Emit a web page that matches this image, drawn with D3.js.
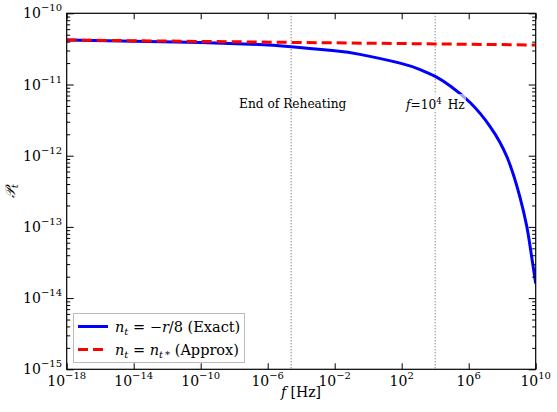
<!DOCTYPE html>
<html lang="en">
<head>
<meta charset="utf-8">
<title>Tensor power spectrum</title>
<script src="https://d3js.org/d3.v7.min.js"></script>
<style>
  body { margin: 0; background: #fff; }
  text { font-family: "DejaVu Serif", serif; fill: #000; }
  .tick-label { font-size: 14px; }
  .annot { font-size: 12.2px; }
  .legend-text { font-size: 14.5px; }
</style>
</head>
<body>
<svg width="557" height="412"></svg>
<script>
// frequency exponents (log10 f in Hz)
const exactLogF = [-18, -14, -10, -7, -4.6, -2, -0.5, 1.9, 3.1, 4.0, 4.9, 6.1, 7.3, 8.3, 9.06, 9.46, 9.66, 10];
// log10 P_t of the exact curve
const exactLogP = [-10.375, -10.391, -10.411, -10.434, -10.469, -10.527, -10.577, -10.70, -10.791, -10.887, -11.021, -11.257, -11.598, -12.026, -12.581, -12.984, -13.264, -13.795];
// approximate (constant n_t) curve
const approxLogF = [-18, -4, 10];
const approxLogP = [-10.375, -10.41, -10.445];
// vertical markers
const markerLogF = [-4.6, 4];
const xTickExp = [-18, -14, -10, -6, -2, 2, 6, 10];
const yTickExp = [-15, -14, -13, -12, -11, -10];

const svg = d3.select("svg");
const pLeft = 66.7, pRight = 535.7, pTop = 13.3, pBottom = 369.3;

const x = d3.scaleLog().domain([1e-18, 1e10]).range([pLeft, pRight]);
const y = d3.scaleLog().domain([1e-15, 1e-10]).range([pBottom, pTop]);

const exact = exactLogF.map((f, i) => [Math.pow(10, f), Math.pow(10, exactLogP[i])]);
const approx = approxLogF.map((f, i) => [Math.pow(10, f), Math.pow(10, approxLogP[i])]);

const line = d3.line()
  .x(d => x(d[0]))
  .y(d => y(d[1]))
  .curve(d3.curveNatural);

// clip
svg.append("clipPath").attr("id", "clip")
  .append("rect").attr("x", pLeft).attr("y", pTop).attr("width", pRight - pLeft).attr("height", pBottom - pTop);

const plot = svg.append("g").attr("clip-path", "url(#clip)");

// dotted markers
plot.selectAll("line.marker")
  .data(markerLogF)
  .enter()
  .append("line")
  .attr("class", "marker")
  .attr("x1", d => x(Math.pow(10, d)))
  .attr("x2", d => x(Math.pow(10, d)))
  .attr("y1", pTop).attr("y2", pBottom)
  .attr("stroke", "#777")
  .attr("stroke-width", 1.2)
  .attr("stroke-dasharray", "1,2");

plot.append("path")
  .datum(exact)
  .attr("d", line)
  .attr("fill", "none")
  .attr("stroke", "#0000ff")
  .attr("stroke-width", 3);

plot.append("path")
  .datum(approx)
  .attr("d", line)
  .attr("fill", "none")
  .attr("stroke", "#ff0000")
  .attr("stroke-width", 3)
  .attr("stroke-dasharray", "10,5");

// annotations
svg.append("text").attr("class", "annot")
  .attr("x", 239).attr("y", 108)
  .text("End of Reheating");

const fLab = svg.append("g");
fLab.append("rect")
  .attr("x", 404).attr("y", 94).attr("width", 62).attr("height", 18)
  .attr("fill", "#fff").attr("opacity", 0.6);
const ft = fLab.append("text").attr("class", "annot").attr("x", 406).attr("y", 108.5);
ft.append("tspan").attr("font-style", "italic").text("f");
ft.append("tspan").text("=10");
ft.append("tspan").attr("font-size", "8.5px").attr("dy", -5).text("4");
ft.append("tspan").attr("dy", 5).attr("dx", 6).text("Hz");

// axes: ticks pointing inward
const xBottom = d3.axisBottom(x).tickValues(xTickExp.map(e => Math.pow(10, e))).tickSize(-6).tickFormat("");
const xTop = d3.axisTop(x).tickValues(xTickExp.map(e => Math.pow(10, e))).tickSize(-6).tickFormat("");

const minorY = [];
for (let e = -15; e < -10; e++) {
  for (let m = 2; m <= 9; m++) minorY.push(m * Math.pow(10, e));
}
const majorY = yTickExp.map(e => Math.pow(10, e));

function yAxes(gen, xpos) {
  svg.append("g").attr("transform", "translate(" + xpos + ",0)")
    .call(gen(y).tickValues(majorY).tickSize(-7).tickFormat(""));
  svg.append("g").attr("transform", "translate(" + xpos + ",0)")
    .call(gen(y).tickValues(minorY).tickSize(-3.5).tickFormat(""));
}
yAxes(d3.axisLeft, pLeft);
yAxes(d3.axisRight, pRight);

svg.append("g").attr("transform", "translate(0," + pBottom + ")").call(xBottom);
svg.append("g").attr("transform", "translate(0," + pTop + ")").call(xTop);

svg.selectAll(".domain").remove();
svg.selectAll(".tick line").attr("stroke", "#000").attr("stroke-width", 1);

// frame
svg.append("rect")
  .attr("x", pLeft).attr("y", pTop).attr("width", pRight - pLeft).attr("height", pBottom - pTop)
  .attr("fill", "none").attr("stroke", "#000").attr("stroke-width", 1.2);

// tick labels
function powLabel(sel, exp) {
  sel.append("tspan").text("10");
  sel.append("tspan").attr("font-size", "10px").attr("dy", -7)
    .text(exp < 0 ? "\u2212" + (-exp) : exp);
}

xTickExp.forEach(e => {
  const t = svg.append("text").attr("class", "tick-label")
    .attr("x", x(Math.pow(10, e))).attr("y", 386)
    .attr("text-anchor", "middle");
  powLabel(t, e);
});

yTickExp.forEach(e => {
  const t = svg.append("text").attr("class", "tick-label")
    .attr("x", 62).attr("y", y(Math.pow(10, e)) + 5)
    .attr("text-anchor", "end");
  powLabel(t, e);
});

// axis labels
const xl = svg.append("text").attr("class", "tick-label")
  .attr("x", 301).attr("y", 397).attr("text-anchor", "middle");
xl.append("tspan").attr("font-style", "italic").text("f");
xl.append("tspan").text(" [Hz]");

const yl = svg.append("text").attr("class", "tick-label")
  .attr("transform", "translate(15," + (pTop + pBottom) / 2 + ") rotate(-90)")
  .attr("text-anchor", "middle");
yl.append("tspan").attr("font-style", "italic").text("\u{1D4AB}");
yl.append("tspan").attr("font-size", "10px").attr("font-style", "italic").attr("dy", 3).text("t");

// legend
const lg = svg.append("g");
lg.append("rect")
  .attr("x", 73.5).attr("y", 313.5).attr("width", 171).attr("height", 49)
  .attr("fill", "#fff").attr("stroke", "#bbb").attr("stroke-width", 1);

const legendItems = [
  { color: "#0000ff", dash: null, parts: [["n", "i"], ["t", "sub"], [" = \u2212", ""], ["r", "i"], ["/8 (Exact)", ""]] },
  { color: "#ff0000", dash: "10,5", parts: [["n", "i"], ["t", "sub"], [" = ", ""], ["n", "i"], ["t\u2009*", "sub"], ["  (Approx)", ""]] }
];
legendItems.forEach((d, i) => {
  const yy = 326.5 + i * 23;
  lg.append("line")
    .attr("x1", 78).attr("x2", 108).attr("y1", yy).attr("y2", yy)
    .attr("stroke", d.color).attr("stroke-width", 3)
    .attr("stroke-dasharray", d.dash);
  const t = lg.append("text").attr("class", "legend-text").attr("x", 115).attr("y", yy + 5);
  let sub = false;
  d.parts.forEach(p => {
    const s = t.append("tspan").text(p[0]);
    if (p[1] === "i") s.attr("font-style", "italic");
    if (p[1] === "sub") {
      s.attr("font-style", "italic").attr("font-size", "10px").attr("dy", sub ? 0 : 3);
      sub = true;
    } else if (sub) {
      s.attr("dy", -3);
      sub = false;
    }
  });
});
</script>
</body>
</html>
